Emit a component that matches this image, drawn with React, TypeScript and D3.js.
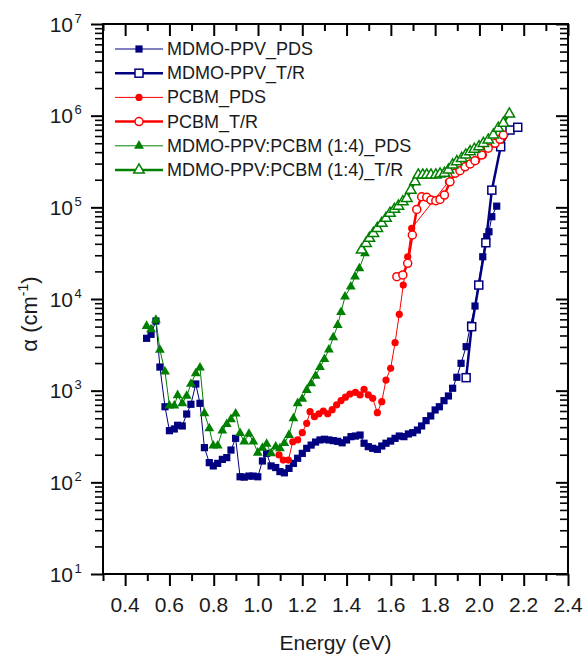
import React, { useEffect, useRef } from "react";
import * as d3 from "d3";

// MDMO-PPV, PDS (filled squares)
const mdmoPdsE = [0.497, 0.517, 0.539, 0.557, 0.58, 0.6, 0.622, 0.637, 0.658, 0.678, 0.697, 0.719, 0.738, 0.758, 0.78, 0.798, 0.818, 0.839, 0.859, 0.878, 0.899, 0.919, 0.938, 0.959, 0.978, 0.999, 1.02, 1.039, 1.059, 1.08, 1.099, 1.119, 1.14, 1.16, 1.179, 1.2, 1.22, 1.24, 1.26, 1.28, 1.3, 1.32, 1.34, 1.36, 1.38, 1.4, 1.42, 1.44, 1.461, 1.479, 1.498, 1.518, 1.539, 1.559, 1.578, 1.599, 1.619, 1.638, 1.659, 1.679, 1.699, 1.72, 1.739, 1.759, 1.78, 1.8, 1.819, 1.84, 1.86, 1.879, 1.898, 1.917, 1.94, 1.96, 1.98, 1.995, 2.015, 2.033, 2.043, 2.056, 2.078];
const mdmoPdsA = [3725, 4120, 5750, 1810, 668, 366, 382, 419, 412, 556, 710, 1183, 728, 239, 164, 151, 161, 178, 186, 225, 302, 115, 114, 117, 117, 115, 171, 207, 151, 145, 131, 127, 142, 161, 183, 207, 235, 255, 275, 290, 295, 290, 285, 280, 270, 290, 315, 320, 328, 267, 245, 235, 229, 249, 267, 282, 302, 320, 315, 337, 348, 372, 412, 471, 530, 616, 668, 778, 875, 1062, 1400, 1988, 3020, 5200, 8380, 14200, 28900, 47900, 54200, 79000, 103000];

// MDMO-PPV, T/R (open squares)
const mdmoTrE = [1.94, 1.965, 1.997, 2.029, 2.056, 2.096, 2.138, 2.173];
const mdmoTrA = [1386, 4990, 14200, 41100, 154000, 458000, 697000, 747000];

// PCBM, PDS (filled circles)
const pcbmPdsE = [1.095, 1.114, 1.137, 1.157, 1.179, 1.2, 1.22, 1.235, 1.255, 1.275, 1.295, 1.315, 1.335, 1.355, 1.375, 1.395, 1.415, 1.44, 1.461, 1.479, 1.498, 1.518, 1.539, 1.559, 1.578, 1.599, 1.619, 1.638, 1.656, 1.676, 1.694, 1.86, 1.898, 1.943, 1.988, 2.018];
const pcbmPdsA = [199, 175, 175, 277, 290, 348, 440, 590, 520, 560, 600, 560, 620, 700, 780, 850, 920, 960, 898, 1035, 898, 825, 575, 759, 1306, 1754, 3340, 6810, 14200, 28900, 59000, 190000, 245000, 290000, 328000, 372000];

// PCBM, T/R (open circles)
const pcbmTrE = [1.627, 1.654, 1.676, 1.697, 1.717, 1.739, 1.762, 1.781, 1.803, 1.822, 1.842, 1.867, 1.89, 1.912, 1.935, 1.958, 1.98, 2.01, 2.04, 2.071, 2.093, 2.108];
const pcbmTrA = [17500, 18300, 24500, 49900, 95000, 130500, 128500, 120000, 118000, 122000, 136000, 190000, 235000, 251000, 277000, 297000, 323000, 372000, 441000, 499000, 552000, 615000];

// MDMO-PPV:PCBM (1:4), PDS (filled triangles)
const blendPdsE = [0.497, 0.517, 0.539, 0.557, 0.58, 0.6, 0.622, 0.637, 0.658, 0.678, 0.697, 0.719, 0.738, 0.758, 0.78, 0.798, 0.818, 0.839, 0.859, 0.878, 0.899, 0.919, 0.938, 0.959, 0.979, 0.999, 1.02, 1.039, 1.059, 1.08, 1.099, 1.119, 1.14, 1.16, 1.179, 1.2, 1.22, 1.24, 1.26, 1.28, 1.3, 1.32, 1.34, 1.36, 1.375, 1.393, 1.419, 1.438, 1.458, 1.483];
const blendPdsA = [5070, 4670, 5900, 2780, 1611, 686, 686, 890, 728, 875, 1183, 1545, 1778, 566, 388, 251, 251, 366, 430, 487, 561, 343, 277, 337, 277, 210, 237, 262, 207, 245, 235, 267, 328, 499, 728, 811, 1016, 1200, 1450, 1800, 2200, 2800, 3800, 5200, 7200, 10600, 13600, 17500, 21600, 31500];

// MDMO-PPV:PCBM (1:4), T/R (open triangles)
const blendTrE = [1.468, 1.488, 1.503, 1.521, 1.539, 1.559, 1.578, 1.596, 1.616, 1.634, 1.654, 1.672, 1.69, 1.709, 1.724, 1.744, 1.762, 1.781, 1.803, 1.822, 1.842, 1.86, 1.879, 1.898, 1.92, 1.938, 1.958, 1.977, 1.998, 2.018, 2.04, 2.063, 2.085, 2.108, 2.135];
const blendTrA = [34200, 40400, 45900, 52000, 59000, 66900, 75900, 86100, 95100, 103000, 115000, 125000, 154000, 190000, 225000, 225000, 225000, 225000, 225000, 231000, 235000, 255000, 290000, 315000, 342000, 372000, 405000, 430000, 458000, 499000, 542000, 615000, 728000, 825000, 1042000];

const xTicks = [0.4, 0.6, 0.8, 1.0, 1.2, 1.4, 1.6, 1.8, 2.0, 2.2, 2.4];
const xMinor = [0.3, 0.5, 0.7, 0.9, 1.1, 1.3, 1.5, 1.7, 1.9, 2.1, 2.3];
const yExponents = [1, 2, 3, 4, 5, 6, 7];

const NAVY = "#000080";
const RED = "#ff0000";
const GREEN = "#008000";

const series = [
  { name: "MDMO-PPV_PDS", e: mdmoPdsE, a: mdmoPdsA, color: NAVY, shape: "square", open: false },
  { name: "MDMO-PPV_T/R", e: mdmoTrE, a: mdmoTrA, color: NAVY, shape: "square", open: true },
  { name: "PCBM_PDS", e: pcbmPdsE, a: pcbmPdsA, color: RED, shape: "circle", open: false },
  { name: "PCBM_T/R", e: pcbmTrE, a: pcbmTrA, color: RED, shape: "circle", open: true },
  { name: "MDMO-PPV:PCBM (1:4)_PDS", e: blendPdsE, a: blendPdsA, color: GREEN, shape: "triangle", open: false },
  { name: "MDMO-PPV:PCBM (1:4)_T/R", e: blendTrE, a: blendTrA, color: GREEN, shape: "triangle", open: true },
];

const FONT = "'Liberation Sans', Arial, Helvetica, sans-serif";

export default function App() {
  const svgRef = useRef<SVGSVGElement | null>(null);

  useEffect(() => {
    if (!svgRef.current) return;
    const svg = d3.select(svgRef.current);
    svg.selectAll("*").remove();

    const left = 103, right = 568, top = 24, bottom = 574;

    const x = d3.scaleLinear().domain([0.3, 2.4]).range([left, right]);
    const y = d3.scaleLog().domain([10, 1e7]).range([bottom, top]);

    const yMinor: number[] = [];
    for (let n = 1; n < 7; n++) for (let k = 2; k <= 9; k++) yMinor.push(k * Math.pow(10, n));
    const yMajor = yExponents.map((n) => Math.pow(10, n));

    const styleAxis = (g: any, w: number) => {
      g.select(".domain").remove();
      g.selectAll("line").attr("stroke", "#000").attr("stroke-width", w);
    };

    // bottom (outward) and top (inward) ticks
    svg.append("g").attr("transform", `translate(0,${bottom})`)
      .call(d3.axisBottom(x).tickValues(xTicks).tickSize(12).tickFormat(() => ""))
      .call((g: any) => styleAxis(g, 2));
    svg.append("g").attr("transform", `translate(0,${bottom})`)
      .call(d3.axisBottom(x).tickValues(xMinor).tickSize(7).tickFormat(() => ""))
      .call((g: any) => styleAxis(g, 2));
    svg.append("g").attr("transform", `translate(0,${top})`)
      .call(d3.axisBottom(x).tickValues(xTicks).tickSize(12).tickFormat(() => ""))
      .call((g: any) => styleAxis(g, 2));
    svg.append("g").attr("transform", `translate(0,${top})`)
      .call(d3.axisBottom(x).tickValues(xMinor).tickSize(7).tickFormat(() => ""))
      .call((g: any) => styleAxis(g, 2));

    // left (outward) and right (inward) ticks
    svg.append("g").attr("transform", `translate(${left},0)`)
      .call(d3.axisLeft(y).tickValues(yMajor).tickSize(12).tickFormat(() => ""))
      .call((g: any) => styleAxis(g, 2));
    svg.append("g").attr("transform", `translate(${left},0)`)
      .call(d3.axisLeft(y).tickValues(yMinor).tickSize(8).tickFormat(() => ""))
      .call((g: any) => styleAxis(g, 1.6));
    svg.append("g").attr("transform", `translate(${right},0)`)
      .call(d3.axisLeft(y).tickValues(yMajor).tickSize(12).tickFormat(() => ""))
      .call((g: any) => styleAxis(g, 2));
    svg.append("g").attr("transform", `translate(${right},0)`)
      .call(d3.axisLeft(y).tickValues(yMinor).tickSize(8).tickFormat(() => ""))
      .call((g: any) => styleAxis(g, 1.6));

    // frame
    svg.append("rect")
      .attr("x", left).attr("y", top)
      .attr("width", right - left).attr("height", bottom - top)
      .attr("fill", "none").attr("stroke", "#000").attr("stroke-width", 2);

    // x tick labels
    svg.append("g").selectAll("text")
      .data(xTicks).enter().append("text")
      .attr("x", (d) => x(d)).attr("y", 612)
      .attr("text-anchor", "middle")
      .style("font-family", FONT).style("font-size", "21px").attr("fill", "#1a1a1a")
      .text((d) => d.toFixed(1));

    // y tick labels 10^n
    const yl = svg.append("g");
    yExponents.forEach((n) => {
      const yy = y(Math.pow(10, n));
      yl.append("text")
        .attr("x", 73).attr("y", yy + 7.5)
        .attr("text-anchor", "end")
        .style("font-family", FONT).style("font-size", "21px").attr("fill", "#1a1a1a")
        .text("10");
      yl.append("text")
        .attr("x", 74.5).attr("y", yy - 1.5)
        .style("font-family", FONT).style("font-size", "13px").attr("fill", "#1a1a1a")
        .text(String(n));
    });

    // axis titles
    svg.append("text")
      .attr("x", (left + right) / 2).attr("y", 650)
      .attr("text-anchor", "middle")
      .style("font-family", FONT).style("font-size", "21px").attr("fill", "#1a1a1a")
      .text("Energy (eV)");

    const yt = svg.append("text")
      .attr("transform", "translate(37,314) rotate(-90)")
      .attr("text-anchor", "middle")
      .style("font-family", FONT).style("font-size", "22px").attr("fill", "#1a1a1a");
    yt.append("tspan").text("α (cm");
    yt.append("tspan").attr("dy", -9).style("font-size", "14px").text("-1");
    yt.append("tspan").attr("dy", 9).text(")");

    const drawMarker = (g: any, s: any, cx: number, cy: number) => {
      const fill = s.open ? "#fff" : s.color;
      const sw = s.open ? 1.5 : 0;
      if (s.shape === "square") {
        const h = s.open ? 4 : 3.6;
        g.append("rect").attr("x", cx - h).attr("y", cy - h)
          .attr("width", 2 * h).attr("height", 2 * h)
          .attr("fill", fill).attr("stroke", s.color).attr("stroke-width", sw);
      } else if (s.shape === "circle") {
        g.append("circle").attr("cx", cx).attr("cy", cy).attr("r", s.open ? 4 : 3.6)
          .attr("fill", fill).attr("stroke", s.color).attr("stroke-width", sw);
      } else {
        g.append("path")
          .attr("d", d3.symbol().type(d3.symbolTriangle).size(s.open ? 48 : 42)())
          .attr("transform", `translate(${cx},${cy})`)
          .attr("fill", fill).attr("stroke", s.color).attr("stroke-width", sw);
      }
    };

    const plot = svg.append("g");
    series.forEach((s) => {
      const pts = s.e.map((e, i) => [x(e), y(s.a[i])] as [number, number]);
      plot.append("path")
        .attr("d", d3.line()(pts))
        .attr("fill", "none")
        .attr("stroke", s.color)
        .attr("stroke-width", s.open ? 2.5 : 1)
        .attr("stroke-linejoin", "round");
      const mg = plot.append("g");
      pts.forEach(([px, py]) => drawMarker(mg, s, px, py));
    });

    // legend
    const lg = svg.append("g");
    series.forEach((s, i) => {
      const ry = 49 + i * 24.2;
      lg.append("line")
        .attr("x1", 115).attr("x2", 163).attr("y1", ry).attr("y2", ry)
        .attr("stroke", s.color).attr("stroke-width", s.open ? 2.5 : 1);
      drawMarker(lg, s, 139, ry);
      lg.append("text")
        .attr("x", 167).attr("y", ry + 6)
        .style("font-family", FONT).style("font-size", "18px").attr("fill", "#1a1a1a")
        .text(s.name);
    });
  }, []);

  return (
    <svg
      ref={svgRef}
      width={587}
      height={655}
      style={{ position: "absolute", left: 0, top: 0, background: "#fff" }}
    />
  );
}
